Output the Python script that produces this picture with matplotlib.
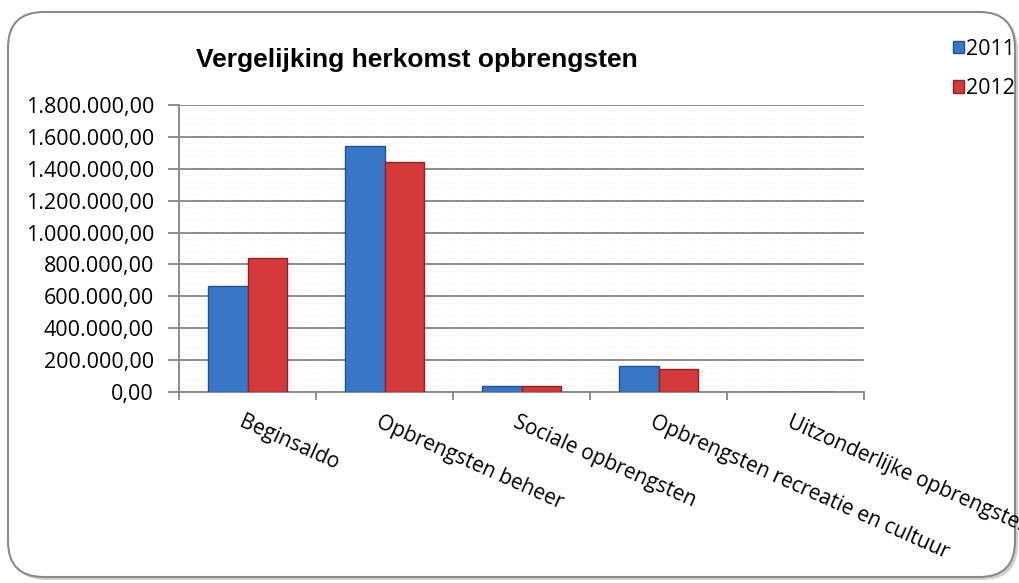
import matplotlib
matplotlib.use("Agg")
import matplotlib.pyplot as plt
from matplotlib.patches import FancyBboxPatch
from matplotlib.ticker import FuncFormatter, MultipleLocator
import numpy as np

categories = ["Beginsaldo", "Opbrengsten beheer", "Sociale opbrengsten",
              "Opbrengsten recreatie en cultuur", "Uitzonderlijke opbrengsten"]
years = ["2011", "2012"]
values_2011 = [665000, 1543000, 38000, 163000, 0]
values_2012 = [838000, 1441000, 38000, 144000, 0]
colors = ["#3877C8", "#D43A3A"]
edges = ["#23508f", "#8f2222"]

plt.rcParams["font.family"] = ["Open Sans", "DejaVu Sans"]

fig = plt.figure(figsize=(10.19, 5.83), dpi=100)

# rounded outer frame with a soft shadow
shadow = FancyBboxPatch((11 / 1019, 3 / 583), 1007 / 1019, 565 / 583,
                        boxstyle="round,pad=0,rounding_size=0.035",
                        transform=fig.transFigure, facecolor="#d0d0d0",
                        edgecolor="none", zorder=-6,
                        mutation_aspect=1019 / 583)
fig.add_artist(shadow)
frame = FancyBboxPatch((8 / 1019, 6 / 583), 1007 / 1019, 565 / 583,
                       boxstyle="round,pad=0,rounding_size=0.035",
                       transform=fig.transFigure, facecolor="white",
                       edgecolor="#8a8a8a", linewidth=1.5, zorder=-5,
                       mutation_aspect=1019 / 583)
fig.add_artist(frame)

ax = fig.add_axes([179 / 1019, 191 / 583, 685 / 1019, 287 / 583])
ax.set_facecolor("none")
ax.set_zorder(1)

x = np.arange(len(categories))
w = 0.29
for i, (vals, c, e) in enumerate(zip([values_2011, values_2012], colors, edges)):
    ax.bar(x + (i - 0.5) * w, vals, width=w, color=c, edgecolor=e,
           linewidth=1.0, label=years[i], zorder=3)

ax.set_xlim(-0.5, len(categories) - 0.5)
ax.set_ylim(0, 1800000)
ax.yaxis.set_major_locator(MultipleLocator(200000))
ax.yaxis.set_minor_locator(MultipleLocator(40000))


def nl_fmt(v, pos):
    s = f"{v:,.2f}"
    return s.replace(",", "X").replace(".", ",").replace("X", ".")


ax.yaxis.set_major_formatter(FuncFormatter(nl_fmt))
ax.grid(axis="y", which="major", color="#8c8c8c", linewidth=1.4, zorder=1)
ax.grid(axis="y", which="minor", color="#d5d5d5", linewidth=0.6,
        linestyle=(0, (1, 5)), zorder=1)
ax.set_axisbelow(True)

for s in ["top", "right"]:
    ax.spines[s].set_visible(False)
for s in ["left", "bottom"]:
    ax.spines[s].set_color("#8c8c8c")
    ax.spines[s].set_linewidth(1.4)

ax.set_xticks(np.arange(len(categories) + 1) - 0.5)
ax.set_xticklabels([])
ax.tick_params(axis="x", which="major", length=6, color="#8c8c8c", width=1.4)
ax.tick_params(axis="y", which="major", length=8, color="#8c8c8c", width=1.4,
               labelsize=15.5, pad=10)
ax.tick_params(axis="y", which="minor", length=0)

# category labels run off the right edge, as in the original
for xi, name in zip(x, categories):
    ax.text(xi - 0.02, -0.07, name, transform=ax.get_xaxis_transform(),
            rotation=-24, rotation_mode="anchor", ha="left", va="top",
            fontsize=15, clip_on=False)

fig.text(417 / 1019, 1 - 60 / 583, "Vergelijking herkomst opbrengsten",
         ha="center", va="center", family=["Liberation Sans", "DejaVu Sans"],
         fontsize=19, fontweight="bold")

fig.legend(loc="upper left", bbox_to_anchor=(944 / 1019, 1 - 30 / 583),
           frameon=False, fontsize=15.5, handlelength=0.55, handleheight=0.55,
           handletextpad=0.08, labelspacing=0.85, borderaxespad=0)

fig.savefig("out.png", dpi=100)
